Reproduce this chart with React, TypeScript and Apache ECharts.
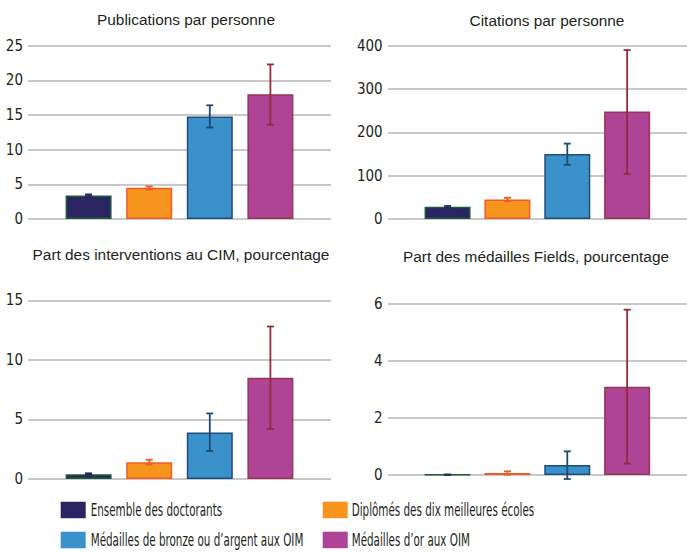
import React, { useEffect, useRef } from "react";
import * as echarts from "echarts";

const categories = [
  "Ensemble des doctorants",
  "Diplômés des dix meilleures écoles",
  "Médailles de bronze ou d’argent aux OIM",
  "Médailles d’or aux OIM",
];
const fillColors = ["#2b2463", "#f7941d", "#3b91ca", "#ad4495"];
const borderColors = ["#1f5a3a", "#f15a29", "#1f4e79", "#9a3451"];
const errColors = ["#2b2463", "#f15a29", "#1d4b74", "#98283f"];

const panelTitles = [
  "Publications par personne",
  "Citations par personne",
  "Part des interventions au CIM, pourcentage",
  "Part des médailles Fields, pourcentage",
];

const pubValues = [3.4, 4.5, 14.8, 18.0];
const pubLow = [3.3, 4.25, 13.2, 13.6];
const pubHigh = [3.55, 4.7, 16.4, 22.3];

const citValues = [28, 45, 150, 248];
const citLow = [25, 41, 125, 104];
const citHigh = [30, 49, 174, 390];

const cimValues = [0.4, 1.4, 3.9, 8.5];
const cimLow = [0.35, 1.22, 2.35, 4.2];
const cimHigh = [0.48, 1.62, 5.5, 12.8];

const fieldsValues = [0.01, 0.07, 0.35, 3.1];
const fieldsLow = [0.0, 0.01, -0.14, 0.4];
const fieldsHigh = [0.02, 0.13, 0.83, 5.8];

const axisMax = [25, 400, 15, 6];
const axisInterval = [5, 100, 5, 2];

const FONT_NARROW = "'DejaVu Sans Condensed', 'DejaVu Sans', sans-serif";
const FONT_TITLE = "'Liberation Sans', Arial, sans-serif";

export default function App() {
  const ref = useRef<HTMLDivElement>(null);
  useEffect(() => {
    if (!ref.current) return;
    const chart = echarts.init(ref.current, null, { renderer: "svg" });

    const panels = [
      { v: pubValues, lo: pubLow, hi: pubHigh },
      { v: citValues, lo: citLow, hi: citHigh },
      { v: cimValues, lo: cimLow, hi: cimHigh },
      { v: fieldsValues, lo: fieldsLow, hi: fieldsHigh },
    ];
    const grids = [
      { left: 28, top: 45.7, width: 303, height: 173.3 },
      { left: 387.7, top: 45.7, width: 302, height: 173.3 },
      { left: 28, top: 300.3, width: 303, height: 178.7 },
      { left: 387.7, top: 304, width: 302, height: 171 },
    ];
    const titlePos = [
      { x: 186, y: 12 },
      { x: 547, y: 12.5 },
      { x: 181, y: 247 },
      { x: 536, y: 248.5 },
    ];
    const xCats = ["a", "b", "c", "d", "e", "f"];

    const series: any[] = [];
    panels.forEach((p, i) => {
      series.push({
        type: "bar",
        xAxisIndex: i,
        yAxisIndex: i,
        barWidth: 46,
        data: [
          "-",
          ...p.v.map((val, k) => ({
            value: val,
            itemStyle: {
              color: fillColors[k],
              borderColor: borderColors[k],
              borderWidth: 1.5,
            },
          })),
          "-",
        ],
      });
      series.push({
        type: "custom",
        xAxisIndex: i,
        yAxisIndex: i,
        clip: false,
        z: 5,
        data: p.v.map((_, k) => [k + 1, p.lo[k], p.hi[k]]),
        encode: { x: 0, y: [1, 2] },
        renderItem: (params: any, api: any) => {
          const x = api.value(0);
          const lo = api.coord([x, api.value(1)]);
          const hi = api.coord([x, api.value(2)]);
          const k = params.dataIndex;
          const half = 3.5;
          const style = { stroke: errColors[k], lineWidth: 1.8 };
          return {
            type: "group",
            children: [
              { type: "line", shape: { x1: lo[0], y1: lo[1], x2: hi[0], y2: hi[1] }, style },
              { type: "line", shape: { x1: hi[0] - half, y1: hi[1], x2: hi[0] + half, y2: hi[1] }, style },
              { type: "line", shape: { x1: lo[0] - half, y1: lo[1], x2: lo[0] + half, y2: lo[1] }, style },
            ],
          };
        },
      });
    });

    const legendPos = [
      { x: 60.7, y: 501.7, tx: 90.7, ty: 510.5 },
      { x: 322.7, y: 501.7, tx: 351.7, ty: 510.5 },
      { x: 60.7, y: 531.7, tx: 90.7, ty: 540.5 },
      { x: 322.7, y: 531.7, tx: 351.7, ty: 540.5 },
    ];
    const graphics: any[] = [];
    categories.forEach((c, k) => {
      const lp = legendPos[k];
      graphics.push({
        type: "rect",
        shape: { x: lp.x, y: lp.y, width: 25, height: 16.5 },
        style: { fill: fillColors[k] },
      });
      graphics.push({
        type: "text",
        x: lp.tx,
        y: lp.ty,
        scaleX: 0.64,
        style: {
          text: c,
          fontSize: 18,
          fontFamily: FONT_NARROW,
          fill: "#231f20",
          verticalAlign: "middle",
          align: "left",
        },
      });
    });

    chart.setOption({
      animation: false,
      backgroundColor: "#ffffff",
      title: panelTitles.map((t, i) => ({
        text: t,
        left: titlePos[i].x,
        top: titlePos[i].y,
        padding: 0,
        textAlign: "center",
        textStyle: {
          fontSize: 15.4,
          fontWeight: "normal",
          fontFamily: FONT_TITLE,
          color: "#231f20",
        },
      })),
      grid: grids,
      xAxis: grids.map((_, i) => ({
        type: "category",
        gridIndex: i,
        data: xCats,
        boundaryGap: false,
        show: false,
      })),
      yAxis: grids.map((_, i) => ({
        type: "value",
        gridIndex: i,
        min: 0,
        max: axisMax[i],
        interval: axisInterval[i],
        axisLine: { show: false },
        axisTick: { show: false },
        axisLabel: {
          fontSize: 15,
          fontFamily: FONT_NARROW,
          color: "#231f20",
          margin: 5,
        },
        splitLine: { lineStyle: { color: "#c8c8c8", width: 2 } },
      })),
      series,
      graphic: graphics,
    });
    return () => chart.dispose();
  }, []);
  return (
    <div
      ref={ref}
      style={{ position: "fixed", left: 0, top: 0, width: 687, height: 552 }}
    />
  );
}
